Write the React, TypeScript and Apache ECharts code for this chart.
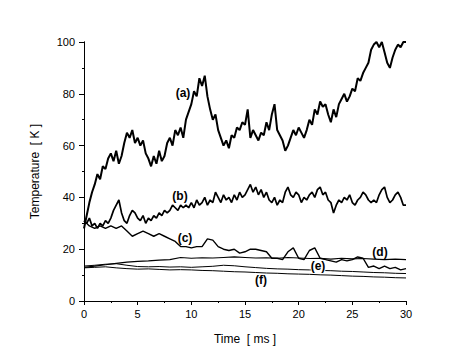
import React, { useEffect, useRef } from "react";
import * as echarts from "echarts";

const xTicks = [0, 5, 10, 15, 20, 25, 30];
const yTicks = [0, 20, 40, 60, 80, 100];

const tA = 0.25; // sampling step (ms) of series a, b
const seriesA = [
  28, 33, 38, 42, 45, 49, 47, 52, 51, 55, 57, 54, 58, 53, 56, 61,
  65, 63, 66, 61, 63, 60, 62, 57, 55, 52, 56, 53, 58, 54, 56, 61,
  63, 60, 66, 64, 67, 63, 70, 73, 76, 81, 79, 86, 83, 87, 79, 74,
  70, 72, 66, 63, 60, 62, 59, 64, 63, 67, 66, 69, 68, 74, 63, 66,
  64, 62, 65, 64, 69, 66, 72, 76, 66, 64, 62, 58, 60, 63, 66, 64,
  67, 65, 63, 66, 70, 68, 74, 72, 77, 75, 76, 72, 69, 74, 71, 76,
  78, 80, 77, 79, 82, 81, 86, 85, 88, 90, 92, 97, 99, 100, 98, 100,
  96, 92, 90, 94, 97, 99, 98, 100, 100,
];
const seriesB = [
  31, 30, 32, 29, 30, 28, 30, 29, 31, 30, 32, 35, 37, 39, 34, 31,
  30, 33, 35, 34, 32, 31, 33, 30, 32, 31, 33, 32, 34, 33, 35, 34,
  35, 37, 36, 35, 37, 36, 37, 36, 38, 36, 39, 37, 38, 40, 37, 39,
  38, 42, 40, 38, 41, 39, 40, 38, 41, 39, 42, 40, 41, 43, 45, 42,
  44, 41, 43, 40, 42, 39, 38, 40, 37, 39, 38, 42, 44, 41, 40, 42,
  41, 38, 40, 39, 41, 42, 40, 43, 44, 41, 42, 39, 38, 34, 37, 39,
  38, 40, 39, 41, 38, 37, 39, 40, 42, 41, 39, 38, 39, 38, 41, 43,
  44, 40, 38, 39, 41, 42, 40, 37, 37,
];
const tC = 0.5;
const seriesC = [
  31, 29, 28, 29, 28, 29, 28, 29, 27, 25, 26, 27, 26, 25, 26, 25,
  24, 23, 21, 21, 20.5, 21, 21, 24, 23.5, 21, 20, 19.5, 20, 18.5,
  19, 20, 20, 19.5, 19, 16.5, 16.5, 16, 19, 20.5, 16.5, 16, 19.5, 20.5,
  16.5, 16, 15.5, 15, 16, 15.5, 16, 17, 16.5, 13, 13.5, 12.5, 13.5,
  12.5, 13, 12, 12.5,
];
const tD = 1;
const seriesD = [
  13, 13.5, 14, 14.5, 15, 15.3, 15.5, 15.8, 16, 16.8, 16.5, 16.7, 16.6,
  16.8, 17, 16.8, 16.6, 16.7, 16.5, 16.8, 16.6, 16.4, 16.5, 16.2, 16.5,
  16.3, 16.4, 16.2, 16, 16.2, 16,
];
const seriesE = [
  13.5, 13.8, 14.2, 14.4, 13.8, 13.3, 13.2, 13.3, 13.1, 13.2, 13, 13.2,
  13.4, 13.8, 13.6, 13.2, 12.9, 12.6, 12.4, 12.3, 12.1, 12, 11.8, 11.7,
  11.5, 11.4, 11.2, 11, 10.9, 10.7, 10.6,
];
const seriesF = [
  12.8, 13, 13.2, 12.8, 12.5, 12.3, 12.4, 12.2, 12, 12.1, 12, 11.8, 11.7,
  11.5, 11.3, 11.2, 11, 10.8, 10.7, 10.5, 10.4, 10.3, 10.1, 10, 9.8, 9.6,
  9.5, 9.3, 9.2, 9, 8.9,
];

const labels = [
  { text: "(a)", x: 183, y: 93 },
  { text: "(b)", x: 180, y: 196 },
  { text: "(c)", x: 185, y: 238 },
  { text: "(d)", x: 380, y: 252 },
  { text: "(e)", x: 318, y: 266 },
  { text: "(f)", x: 261, y: 280 },
];

const toPairs = (arr: number[], step: number) => arr.map((v, i) => [i * step, v]);

const FONT = "'Liberation Sans', Arial, sans-serif";

export default function App() {
  const ref = useRef<HTMLDivElement>(null);
  useEffect(() => {
    if (!ref.current) return;
    const chart = echarts.init(ref.current, undefined, { renderer: "svg" });
    const lineSeries = (data: number[][], w: number) => ({
      type: "line",
      data,
      symbol: "none",
      lineStyle: { color: "#000", width: w },
      clip: true,
    });
    const baseAxisLine = { show: true, lineStyle: { color: "#000", width: 1 } };
    chart.setOption({
      animation: false,
      backgroundColor: "#fff",
      grid: { left: 84, right: 65, top: 42, bottom: 61 },
      xAxis: [
        {
          type: "value",
          min: 0,
          max: 30,
          interval: 5,
          position: "bottom",
          axisLine: baseAxisLine,
          axisTick: { show: true, inside: false, length: 4, lineStyle: { color: "#000" } },
          minorTick: { show: true, splitNumber: 2, length: 2, lineStyle: { color: "#000" } },
          splitLine: { show: false },
          axisLabel: {
            color: "#000",
            fontFamily: FONT,
            fontSize: 11,
            margin: 7,
            formatter: (v: number) => (xTicks.includes(v) ? String(v) : ""),
          },
          name: "Time  [ ms ]",
          nameLocation: "middle",
          nameGap: 32,
          nameTextStyle: { color: "#000", fontFamily: FONT, fontSize: 12 },
        },
        {
          type: "value",
          min: 0,
          max: 30,
          interval: 5,
          position: "top",
          axisLine: baseAxisLine,
          axisTick: { show: true, inside: true, length: 3, lineStyle: { color: "#000" } },
          minorTick: { show: true, splitNumber: 2, length: 2, lineStyle: { color: "#000" } },
          splitLine: { show: false },
          axisLabel: { show: false },
        },
      ],
      yAxis: [
        {
          type: "value",
          min: 0,
          max: 100,
          interval: 20,
          position: "left",
          axisLine: baseAxisLine,
          axisTick: { show: true, inside: false, length: 5, lineStyle: { color: "#000" } },
          minorTick: { show: true, splitNumber: 2, length: 2, lineStyle: { color: "#000" } },
          splitLine: { show: false },
          axisLabel: {
            color: "#000",
            fontFamily: FONT,
            fontSize: 11,
            margin: 9,
            formatter: (v: number) => (yTicks.includes(v) ? String(v) : ""),
          },
          name: "Temperature  [ K ]",
          nameLocation: "middle",
          nameGap: 43,
          nameRotate: 90,
          nameTextStyle: { color: "#000", fontFamily: FONT, fontSize: 12 },
        },
        {
          type: "value",
          min: 0,
          max: 100,
          interval: 20,
          position: "right",
          axisLine: baseAxisLine,
          axisTick: { show: true, inside: true, length: 3, lineStyle: { color: "#000" } },
          minorTick: { show: true, splitNumber: 2, length: 2, lineStyle: { color: "#000" } },
          splitLine: { show: false },
          axisLabel: { show: false },
        },
      ],
      series: [
        lineSeries(toPairs(seriesF, tD), 1),
        lineSeries(toPairs(seriesE, tD), 1),
        lineSeries(toPairs(seriesD, tD), 1.2),
        lineSeries(toPairs(seriesC, tC), 1.4),
        lineSeries(toPairs(seriesB, tA), 1.7),
        lineSeries(toPairs(seriesA, tA), 2),
      ],
      graphic: labels.map((l) => ({
        type: "text",
        x: l.x,
        y: l.y,
        z: 100,
        style: {
          text: l.text,
          fill: "#000",
          font: `bold 12px ${FONT}`,
          align: "center",
          verticalAlign: "middle",
          backgroundColor: l.text === "(e)" ? "#fff" : undefined,
        },
      })),
    });
    return () => chart.dispose();
  }, []);
  return <div ref={ref} style={{ width: 471, height: 362, position: "absolute", left: 0, top: 0 }} />;
}
